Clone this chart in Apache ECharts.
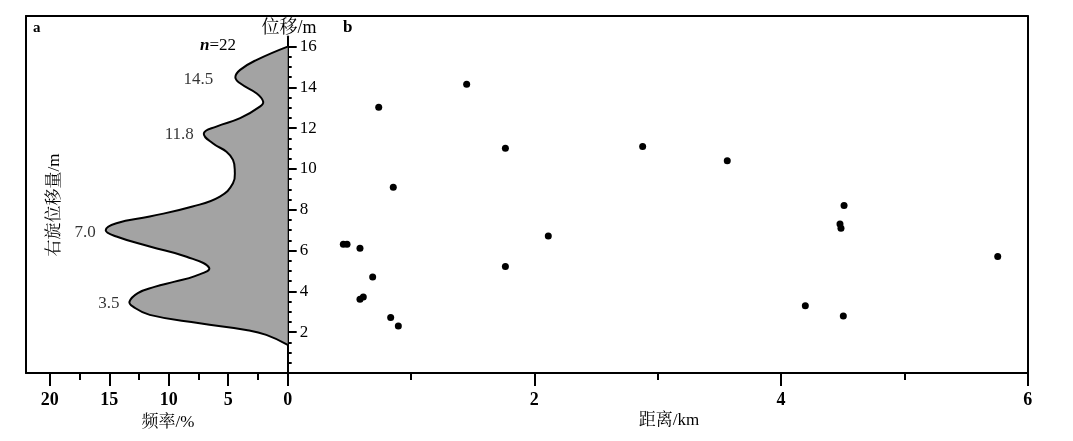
<!DOCTYPE html>
<html><head><meta charset="utf-8">
<script src="https://cdn.jsdelivr.net/npm/echarts@6/dist/echarts.min.js"></script>
<style>html,body{margin:0;padding:0;background:#fff}#c{width:1073px;height:441px}</style>
</head><body><div id="c"></div>
<script>
// Panel a: frequency curve (frequency %, displacement m), bottom to top
const curveFreq = [0, 1.8, 3.5, 7.4, 11.6, 13.0, 13.3, 12.6, 11.2, 9.5, 7.8, 6.6, 8.5, 11.6, 14.4, 15.3, 14.4, 11.6, 8.0, 5.7, 4.6, 4.45, 4.6, 5.15, 6.3, 7.05, 6.0, 4.0, 2.34, 2.06, 2.6, 4.0, 4.4, 4.0, 2.6, 0];
const curveDisp = [1.38, 1.87, 2.11, 2.44, 2.85, 3.25, 3.5, 3.92, 4.22, 4.48, 4.75, 5.15, 5.7, 6.2, 6.69, 7.0, 7.34, 7.67, 8.16, 8.65, 9.3, 9.96, 10.45, 10.85, 11.26, 11.75, 12.08, 12.49, 13.06, 13.3, 13.7, 14.2, 14.5, 14.86, 15.35, 16.0];
// Peak annotations
const peakFreq = [4.4, 7.05, 15.3, 13.3];
const peakDisp = [14.5, 11.8, 7.0, 3.5];
// Panel b: distance (km) vs displacement (m)
const distKm = [1.451, 0.738, 1.765, 0.856, 0.451, 0.481, 0.586, 0.689, 0.586, 0.613, 0.835, 0.897, 1.765, 2.878, 3.564, 2.113, 4.511, 4.478, 4.486, 5.757, 4.197, 4.505];
const dispM  = [14.16, 13.03, 11.02, 9.11, 6.31, 6.31, 6.12, 4.71, 3.62, 3.72, 2.72, 2.31, 5.22, 11.10, 10.41, 6.72, 8.21, 7.31, 7.10, 5.71, 3.30, 2.80];
// Tick values
const freqTicks = [0, 5, 10, 15, 20];
const freqMinor = [2.5, 7.5, 12.5, 17.5];
const distTicks = [2, 4, 6];
const distMinor = [1, 3, 5];
const dispTicks = [0, 2, 4, 6, 8, 10, 12, 14, 16];
const dispLabels = [2, 4, 6, 8, 10, 12, 14, 16];
const dispMinor = [0.5, 1, 1.5, 2.5, 3, 3.5, 4.5, 5, 5.5, 6.5, 7, 7.5, 8.5, 9, 9.5, 10.5, 11, 11.5, 12.5, 13, 13.5, 14.5, 15, 15.5];

const SERIF = "'Liberation Serif','Noto Serif CJK SC','Noto Sans CJK SC'";
const BLK = '#000';
const chart = echarts.init(document.getElementById('c'), null, {renderer: 'canvas'});

const PX = 20.4; // px per metre (layout)
const axBase = {type: 'value', splitLine: {show: false}, axisLine: {show: false}, axisTick: {show: false}, axisLabel: {show: false}};
const lineOn = {show: true, onZero: false, lineStyle: {color: BLK, width: 2}};
const lblStyle = {color: BLK, fontFamily: SERIF, fontSize: 18, fontWeight: 'bold'};

const option = {
  animation: false,
  backgroundColor: '#fff',
  grid: [
    {left: 26, top: 16, width: 261.7, height: 357},
    {left: 287.7, top: 16, width: 740, height: 357},
    {left: 287.7, top: 373 - 16.5 * PX, width: 740, height: 16.5 * PX}
  ],
  xAxis: [
    Object.assign({}, axBase, {gridIndex: 0, position: 'bottom', inverse: true, min: 0, max: 22,
      axisLine: lineOn,
      axisTick: {show: true, customValues: freqTicks, length: 13, lineStyle: {color: BLK, width: 2}},
      axisLabel: Object.assign({show: true, customValues: freqTicks, margin: 18}, lblStyle)}),
    Object.assign({}, axBase, {gridIndex: 0, position: 'bottom', inverse: true, min: 0, max: 22,
      axisTick: {show: true, customValues: freqMinor, length: 7, lineStyle: {color: BLK, width: 2}}}),
    Object.assign({}, axBase, {gridIndex: 0, position: 'top', min: 0, max: 22, axisLine: lineOn}),
    Object.assign({}, axBase, {gridIndex: 1, position: 'bottom', min: 0, max: 6,
      axisLine: lineOn,
      axisTick: {show: true, customValues: distTicks, length: 13, lineStyle: {color: BLK, width: 2}},
      axisLabel: Object.assign({show: true, customValues: distTicks, margin: 18}, lblStyle)}),
    Object.assign({}, axBase, {gridIndex: 1, position: 'bottom', min: 0, max: 6,
      axisTick: {show: true, customValues: distMinor, length: 7, lineStyle: {color: BLK, width: 2}}}),
    Object.assign({}, axBase, {gridIndex: 1, position: 'top', min: 0, max: 6, axisLine: lineOn}),
    Object.assign({}, axBase, {gridIndex: 2, show: false, min: 0, max: 6})
  ],
  yAxis: [
    Object.assign({}, axBase, {gridIndex: 0, position: 'left', min: 0, max: 17.5, axisLine: lineOn}),
    Object.assign({}, axBase, {gridIndex: 1, position: 'right', min: 0, max: 17.5, axisLine: lineOn}),
    Object.assign({}, axBase, {gridIndex: 2, position: 'left', min: 0, max: 16.5,
      axisLine: lineOn,
      axisTick: {show: true, inside: true, customValues: dispTicks, length: 9, lineStyle: {color: BLK, width: 2}},
      axisLabel: Object.assign({show: true, inside: true, customValues: dispLabels, margin: 12}, lblStyle, {fontSize: 17, fontWeight: 'normal'})}),
    Object.assign({}, axBase, {gridIndex: 2, position: 'left', min: 0, max: 16.5,
      axisTick: {show: true, inside: true, customValues: dispMinor, length: 4, lineStyle: {color: BLK, width: 2}}})
  ],
  series: [
    {
      name: '频率', type: 'custom', xAxisIndex: 0, yAxisIndex: 0, silent: true, z: 2,
      data: curveFreq.map((f, i) => [f, curveDisp[i]]),
      renderItem: function (params, api) {
        if (params.dataIndex !== 0) return null;
        const pts = curveFreq.map((f, i) => api.coord([f, curveDisp[i]]));
        return {type: 'polyline', shape: {points: pts, smooth: 0.45},
          style: {fill: '#a3a3a3', stroke: BLK, lineWidth: 2}};
      }
    },
    {
      name: '峰值', type: 'scatter', xAxisIndex: 0, yAxisIndex: 0, symbolSize: 0, silent: true, z: 4,
      data: peakFreq.map((f, i) => ({value: [f, peakDisp[i]], label: {distance: i === 0 ? 22 : 10}})),
      label: {show: true, position: 'left', offset: [0, 2], formatter: p => p.value[1].toFixed(1),
        color: BLK, fontFamily: SERIF, fontSize: 17}
    },
    {
      name: '位移', type: 'scatter', xAxisIndex: 3, yAxisIndex: 1, symbolSize: 7, z: 5,
      itemStyle: {color: BLK, opacity: 1},
      data: distKm.map((d, i) => [d, dispM[i]])
    }
  ],
  graphic: [
    {type: 'text', left: 33, top: 21, style: {text: 'a', fill: BLK, font: "bold 15px " + SERIF}},
    {type: 'text', left: 343, top: 19, style: {text: 'b', fill: BLK, font: "bold 17px " + SERIF}},
    {type: 'text', x: 289, y: 28, style: {text: '位移/m', fill: BLK, font: "18px " + SERIF, align: 'center', verticalAlign: 'middle'}},
    {type: 'text', x: 218, y: 46, style: {text: '{i|n}=' + distKm.length, fill: BLK, font: "17px " + SERIF, align: 'center', verticalAlign: 'middle',
      rich: {i: {fontStyle: 'italic', fontWeight: 'bold', fontSize: 17, fontFamily: SERIF}}}},
    {type: 'text', x: 168, y: 423, style: {text: '频率/%', fill: BLK, font: "17px " + SERIF, align: 'center', verticalAlign: 'middle'}},
    {type: 'text', x: 669, y: 421, style: {text: '距离/km', fill: BLK, font: "17px " + SERIF, align: 'center', verticalAlign: 'middle'}},
    {type: 'text', x: 55, y: 205, rotation: Math.PI / 2, style: {text: '右旋位移量/m', fill: BLK, font: "17px " + SERIF, align: 'center', verticalAlign: 'middle'}}
  ]
};
chart.setOption(option);
</script>
</body></html>
